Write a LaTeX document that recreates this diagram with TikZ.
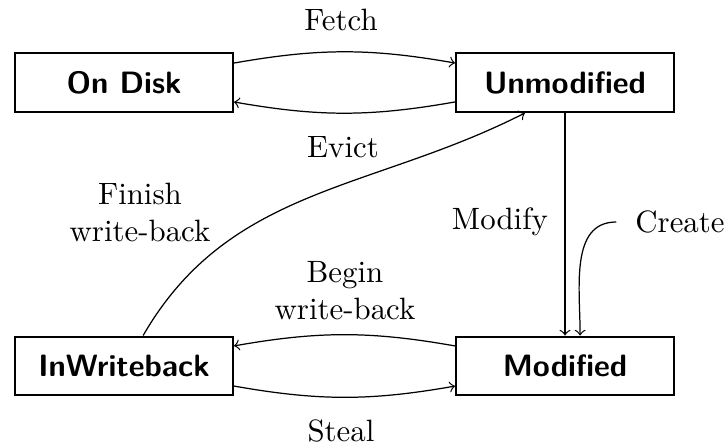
\documentclass[tikz,border=0pt]{standalone}
\begin{document}
\begin{tikzpicture}[x=0.324pt,y=-0.324pt,
  state/.style={draw,line width=0.75pt,minimum width=70.5pt,minimum height=19pt,inner sep=0pt,font=\sffamily\bfseries},
  lbl/.style={inner sep=0pt},
  conn/.style={->,line width=0.4pt}]
\useasboundingbox (0,0) rectangle (726,444);
\node[state] (ondisk) at (124,82.5) {On Disk};
\node[state] (unmod) at (565,82.5) {Unmodified};
\node[state] (iwb) at (124,366) {InWriteback};
\node[state] (mod) at (565,366) {Modified};
\node[lbl] (lfetch) at (341,20) {Fetch};
\node[lbl] (levict) at (343,147) {Evict};
\node[lbl,align=center] (lfinish) at (140,212) {Finish\\write-back};
\node[lbl,align=center] (lbegin) at (345,291) {Begin\\write-back};
\node[lbl] (lsteal) at (341,431) {Steal};
\node[lbl] (lmodify) at (500,222) {Modify};
\node[lbl] (lcreate) at (680,222) {Create};
\draw[conn] ([yshift=6.3pt]ondisk.east) to[bend left=10] ([yshift=6.3pt]unmod.west);
\draw[conn] ([yshift=-6.3pt]unmod.west) to[bend left=10] ([yshift=-6.3pt]ondisk.east);
\draw[conn] ([yshift=6.5pt]mod.west) to[bend right=10] ([yshift=6.5pt]iwb.east);
\draw[conn] ([yshift=-6.5pt]iwb.east) to[bend right=10] ([yshift=-6.5pt]mod.west);
\draw[conn] (unmod.south) -- (mod.north);
\draw[conn] ([xshift=-6pt]lcreate.west) to[out=180,in=90] ([xshift=4.9pt]mod.north);
\draw[conn] ([xshift=6.2pt]iwb.north) to[out=60,in=207] ([xshift=-13pt]unmod.south);
\end{tikzpicture}
\end{document}
